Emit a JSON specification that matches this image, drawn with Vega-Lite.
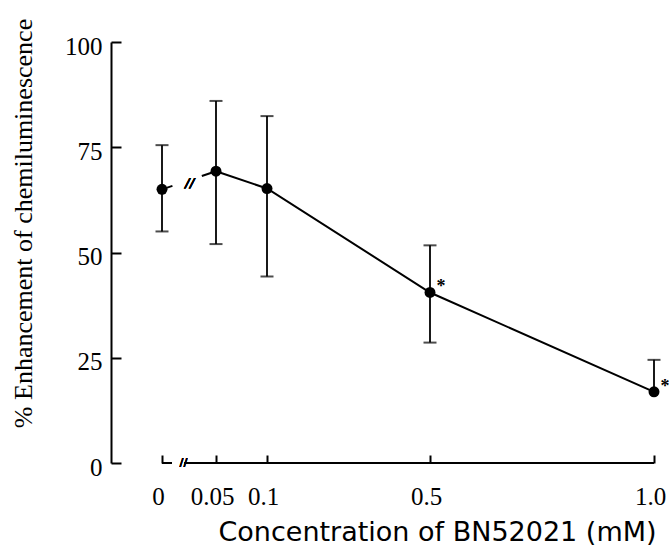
{
  "$schema": "https://vega.github.io/schema/vega-lite/v6.json",
  "width": 550,
  "height": 421,
  "autosize": {"type": "none"},
  "padding": {"left": 111, "top": 42, "right": 8, "bottom": 88},
  "background": "white",
  "config": {"view": {"stroke": null}},
  "data": {
    "values": [
      {"conc": 0, "mean": 65.0, "lo": 55.0, "hi": 75.5, "sig": ""},
      {"conc": 0.05, "mean": 69.3, "lo": 52.0, "hi": 86.0, "sig": ""},
      {"conc": 0.1, "mean": 65.2, "lo": 44.3, "hi": 82.4, "sig": ""},
      {"conc": 0.5, "mean": 40.5, "lo": 28.6, "hi": 51.7, "sig": "*"},
      {"conc": 1.0, "mean": 16.9, "lo": null, "hi": 24.5, "sig": "*"}
    ]
  },
  "encoding": {
    "x": {
      "field": "conc",
      "type": "quantitative",
      "scale": {"type": "linear", "domain": [0, 0.05, 0.1, 0.5, 1], "range": [51, 105, 156, 319, 543], "nice": false, "zero": false},
      "axis": {
        "values": [0, 0.05, 0.1, 0.5, 1],
        "labelExpr": "datum.value == 1 ? '1.0' : datum.value == 0.5 ? '0.5' : datum.value == 0.1 ? '0.1' : datum.value == 0.05 ? '0.05' : '0'",
        "domain": false,
        "grid": false,
        "tickSize": -8,
        "tickWidth": 2,
        "tickColor": "black",
        "labelFont": "Liberation Serif",
        "labelFontSize": 25,
        "labelColor": "black",
        "labelPadding": 29,
        "labelOffset": -4,
        "labelFlush": false,
        "title": "Concentration of BN52021 (mM)",
        "titleFont": "DejaVu Sans",
        "titleFontSize": 27,
        "titleFontWeight": "normal",
        "titleColor": "black",
        "titleX": 326,
        "titleY": 77,
        "titleAlign": "center",
        "titleBaseline": "alphabetic",
        "titleAnchor": null
      }
    }
  },
  "layer": [
    {
      "mark": {"type": "rule", "color": "black", "strokeWidth": 2, "strokeDash": [10, 12, 600]},
      "encoding": {"x": {"datum": 0}, "x2": {"datum": 1}, "y": {"datum": 0}}
    },
    {
      "mark": {"type": "rule", "color": "black", "strokeWidth": 1.8},
      "encoding": {
        "y": {
          "field": "mean",
          "type": "quantitative",
          "scale": {"domain": [0, 100], "nice": false},
          "axis": {
            "values": [0, 25, 50, 75, 100],
            "grid": false,
            "domainColor": "black",
            "domainWidth": 2,
            "tickSize": -10,
            "tickWidth": 2,
            "tickColor": "black",
            "labelFont": "Liberation Serif",
            "labelFontSize": 25,
            "labelColor": "black",
            "labelPadding": 19,
            "labelOffset": 4,
            "title": "% Enhancement of chemiluminescence",
            "titleFont": "Liberation Serif",
            "titleFontSize": 26,
            "titleFontWeight": "normal",
            "titleColor": "black",
            "titleAngle": -90,
            "titleX": -80,
            "titleY": 181,
            "titleAlign": "center",
            "titleBaseline": "alphabetic",
            "titleAnchor": null
          }
        },
        "y2": {"field": "hi"}
      }
    },
    {
      "mark": {"type": "rule", "color": "black", "strokeWidth": 1.8},
      "encoding": {"y": {"field": "lo", "type": "quantitative"}, "y2": {"field": "mean"}}
    },
    {
      "mark": {"type": "tick", "orient": "horizontal", "color": "black", "size": 13, "thickness": 2},
      "encoding": {"y": {"field": "hi", "type": "quantitative"}}
    },
    {
      "mark": {"type": "tick", "orient": "horizontal", "color": "black", "size": 13, "thickness": 2},
      "encoding": {"y": {"field": "lo", "type": "quantitative"}}
    },
    {
      "transform": [{"filter": "datum.conc >= 0.05"}],
      "mark": {"type": "line", "color": "black", "strokeWidth": 2},
      "encoding": {"y": {"field": "mean", "type": "quantitative"}}
    },
    {
      "transform": [{"filter": "datum.conc <= 0.05"}],
      "mark": {"type": "line", "color": "black", "strokeWidth": 2, "strokeDash": [11, 31, 30]},
      "encoding": {"y": {"field": "mean", "type": "quantitative"}}
    },
    {
      "mark": {"type": "point", "filled": true, "color": "black", "size": 120, "opacity": 1},
      "encoding": {"y": {"field": "mean", "type": "quantitative"}}
    },
    {
      "mark": {"type": "text", "color": "black", "font": "Liberation Serif", "fontSize": 18, "fontWeight": "bold", "dx": 11, "dy": 0, "baseline": "alphabetic", "align": "center"},
      "encoding": {"y": {"field": "mean", "type": "quantitative"}, "text": {"field": "sig"}}
    },
    {
      "mark": {"type": "text", "color": "black", "font": "DejaVu Sans", "fontSize": 13, "fontStyle": "italic", "fontWeight": "bold", "text": "//", "baseline": "middle", "align": "center"},
      "encoding": {"x": {"datum": 0.026}, "y": {"datum": 66.5}}
    },
    {
      "mark": {"type": "text", "color": "black", "font": "DejaVu Sans", "fontSize": 11, "fontWeight": "bold", "text": "//", "baseline": "middle", "align": "center"},
      "encoding": {"x": {"datum": 0.02}, "y": {"datum": 0}}
    }
  ]
}
